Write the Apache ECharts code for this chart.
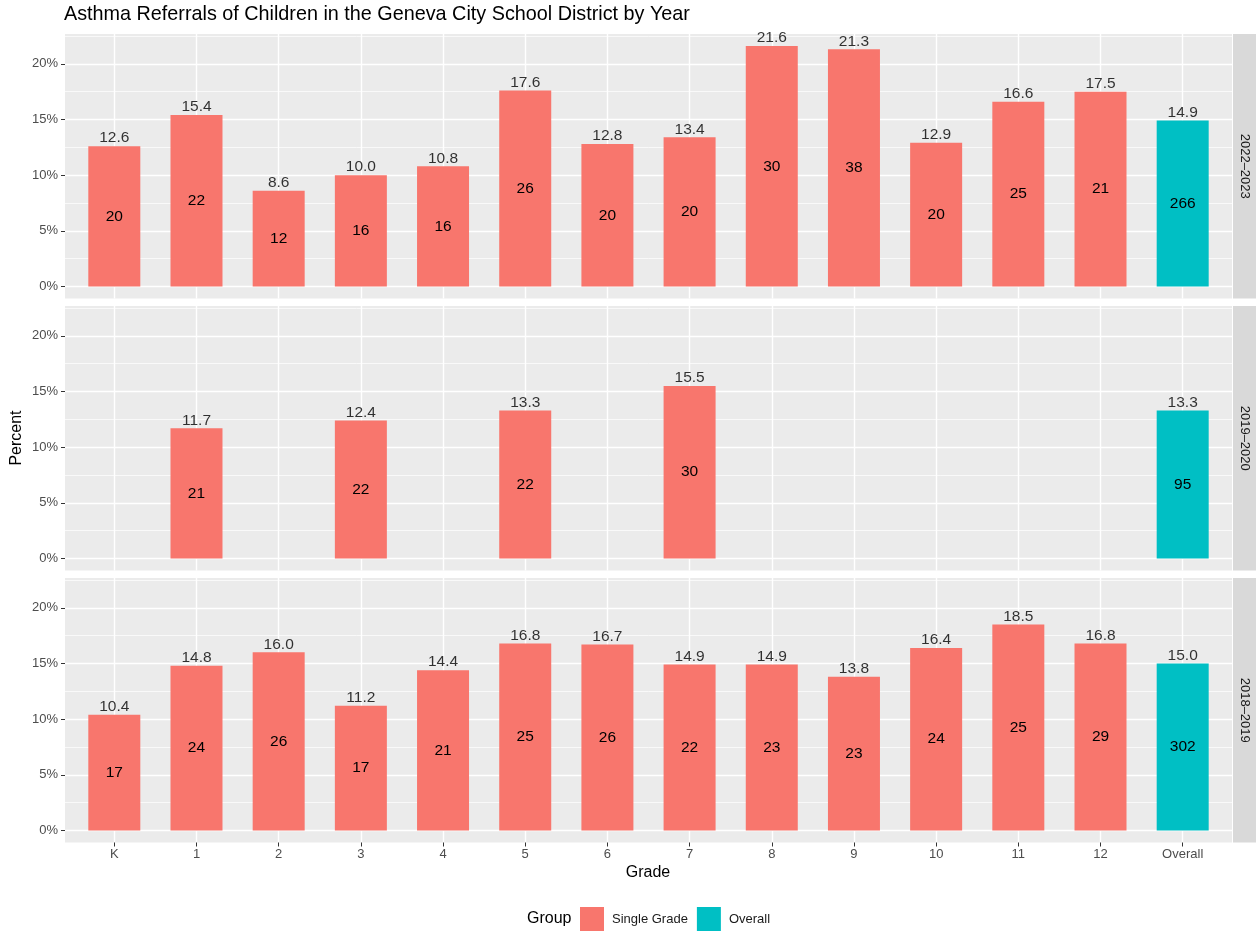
<!DOCTYPE html>
<html>
<head>
<meta charset="utf-8">
<script src="https://cdn.jsdelivr.net/npm/echarts@6/dist/echarts.min.js"></script>
<style>
  html, body { margin: 0; padding: 0; background: #fff; }
  #chart { width: 1256px; height: 932px; }
</style>
</head>
<body>
<div id="chart"></div>
<script>
// data
const grades = ['K', '1', '2', '3', '4', '5', '6', '7', '8', '9', '10', '11', '12', 'Overall'];
const years = ['2022–2023', '2019–2020', '2018–2019'];

// percent of children referred (null = no data)
const pct2022 = [12.6, 15.4, 8.6, 10.0, 10.8, 17.6, 12.8, 13.4, 21.6, 21.3, 12.9, 16.6, 17.5, 14.9];
const cnt2022 = [20, 22, 12, 16, 16, 26, 20, 20, 30, 38, 20, 25, 21, 266];
const pct2019 = [null, 11.7, null, 12.4, null, 13.3, null, 15.5, null, null, null, null, null, 13.3];
const cnt2019 = [null, 21, null, 22, null, 22, null, 30, null, null, null, null, null, 95];
const pct2018 = [10.4, 14.8, 16.0, 11.2, 14.4, 16.8, 16.7, 14.9, 14.9, 13.8, 16.4, 18.5, 16.8, 15.0];
const cnt2018 = [17, 24, 26, 17, 21, 25, 26, 22, 23, 23, 24, 25, 29, 302];

const yTicks = [0, 5, 10, 15, 20];
const yMinor = [2.5, 7.5, 12.5, 17.5, 22.5];

const panels = [
  { pct: pct2022, cnt: cnt2022 },
  { pct: pct2019, cnt: cnt2019 },
  { pct: pct2018, cnt: cnt2018 }
];

const colSingle = '#F8766D';
const colOverall = '#00BFC4';
const FONT = 'Liberation Sans';

const panelTop = [34, 306, 578];
const panelH = 264.5;
const gridLeft = 65;
const gridRight = 1256 - 1232;
const xIdx = grades.map((g, i) => i);
const overallIdx = grades.length - 1;

const chart = echarts.init(document.getElementById('chart'));

const grids = [], xAxes = [], yAxes = [], series = [];

panels.forEach((p, k) => {
  grids.push({
    left: gridLeft, right: gridRight, top: panelTop[k], height: panelH,
    show: true, backgroundColor: '#EBEBEB', borderWidth: 0
  });
  const bottom = k === panels.length - 1;
  xAxes.push({
    gridIndex: k, type: 'value', min: -0.6, max: 13.6, position: 'bottom',
    axisLine: { show: false, onZero: false },
    axisTick: { show: bottom, customValues: xIdx, length: 4, lineStyle: { color: '#333333', width: 1 } },
    axisLabel: {
      show: bottom, customValues: xIdx, margin: 5,
      color: '#4D4D4D', fontSize: 13, fontFamily: FONT,
      formatter: v => grades[Math.round(v)]
    },
    splitLine: { show: true, lineStyle: { color: '#FFFFFF', width: 1.4 } }
  });
});
// major y axes
panels.forEach((p, k) => {
  yAxes.push({
    gridIndex: k, type: 'value', min: -1.08, max: 22.68, position: 'left',
    axisLine: { show: false, onZero: false },
    axisTick: { show: true, customValues: yTicks, length: 4, lineStyle: { color: '#333333', width: 1 } },
    axisLabel: {
      customValues: yTicks, margin: 7, color: '#4D4D4D', fontSize: 13,
      fontFamily: FONT, formatter: v => v + '%'
    },
    splitLine: { show: true, lineStyle: { color: '#FFFFFF', width: 1.4 } }
  });
});
// minor y gridlines
panels.forEach((p, k) => {
  yAxes.push({
    gridIndex: k, type: 'value', min: -1.08, max: 22.68, position: 'left',
    axisLine: { show: false, onZero: false },
    axisTick: { show: false, customValues: yMinor },
    axisLabel: { show: false },
    splitLine: { show: true, lineStyle: { color: '#FFFFFF', width: 0.7 } }
  });
});

panels.forEach((p, k) => {
  const single = [], overall = [], tops = [];
  p.pct.forEach((v, i) => {
    if (v == null) return;
    const item = { value: [i, v], cnt: p.cnt[i] };
    if (i === overallIdx) overall.push(item); else single.push(item);
    tops.push([i, v]);
  });
  const barBase = {
    type: 'bar', xAxisIndex: k, yAxisIndex: k, barWidth: 52, barGap: '-100%',
    label: {
      show: true, position: 'inside', color: '#000', fontSize: 15.5,
      fontFamily: FONT,
      formatter: q => String(q.data.cnt)
    },
    emphasis: { disabled: true }
  };
  series.push(Object.assign({}, barBase, { name: 'Single Grade', data: single, itemStyle: { color: colSingle } }));
  series.push(Object.assign({}, barBase, { name: 'Overall', data: overall, itemStyle: { color: colOverall } }));
  series.push({
    type: 'scatter', name: 'pctLabel' + k, xAxisIndex: k, yAxisIndex: k,
    symbolSize: 0, data: tops, silent: true,
    label: {
      show: true, position: 'top', distance: 0, color: '#000', fontSize: 15.5,
      fontFamily: FONT, formatter: q => q.value[1].toFixed(1)
    }
  });
});

const graphics = [];
years.forEach((y, k) => {
  graphics.push({
    type: 'rect', left: 1233, top: panelTop[k], silent: true,
    shape: { width: 23, height: panelH }, style: { fill: '#D9D9D9' }
  });
  graphics.push({
    type: 'text', x: 1245, y: panelTop[k] + panelH / 2, rotation: -Math.PI / 2,
    style: {
      text: y, fill: '#1A1A1A', fontSize: 13, fontFamily: FONT,
      align: 'center', verticalAlign: 'middle'
    }
  });
});
graphics.push({
  type: 'text', x: 17, y: 438, rotation: Math.PI / 2,
  style: { text: 'Percent', fill: '#000', fontSize: 16, fontFamily: FONT, align: 'center', verticalAlign: 'middle' }
});
graphics.push({
  type: 'text', x: 648, y: 873,
  style: { text: 'Grade', fill: '#000', fontSize: 16, fontFamily: FONT, align: 'center', verticalAlign: 'middle' }
});
graphics.push({
  type: 'text', x: 527, y: 919,
  style: { text: 'Group', fill: '#000', fontSize: 16, fontFamily: FONT, align: 'left', verticalAlign: 'middle' }
});

chart.setOption({
  animation: false,
  backgroundColor: '#FFFFFF',
  title: {
    text: 'Asthma Referrals of Children in the Geneva City School District by Year',
    left: 64, top: 5, padding: 0,
    textStyle: { color: '#000', fontSize: 19.8, fontWeight: 'normal', fontFamily: FONT }
  },
  legend: {
    data: ['Single Grade', 'Overall'], left: 580, top: 907, padding: 0,
    icon: 'rect', itemWidth: 24, itemHeight: 24, itemGap: 9,
    textStyle: { color: '#1A1A1A', fontSize: 13, fontFamily: FONT, padding: [0, 0, 0, 3] },
    selectedMode: false
  },
  grid: grids,
  xAxis: xAxes,
  yAxis: yAxes,
  series: series,
  graphic: graphics
});
</script>
</body>
</html>
